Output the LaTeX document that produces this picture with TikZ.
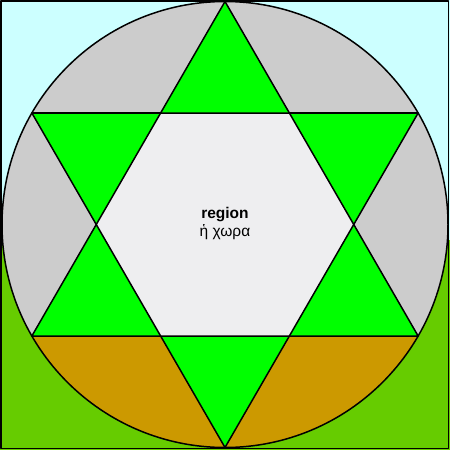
\documentclass[tikz,border=0pt]{standalone}
\usepackage{fontspec}
\setmainfont{Liberation Sans}
\usetikzlibrary{calc}
\definecolor{skycyan}{RGB}{204,255,255}
\definecolor{grassgreen}{RGB}{102,204,0}
\definecolor{discgray}{RGB}{204,204,204}
\definecolor{stargreen}{RGB}{0,255,0}
\definecolor{earthtan}{RGB}{204,153,0}
\definecolor{hexwhite}{RGB}{238,238,240}
\tikzset{outline/.style={draw=black, line width=1.5pt, line join=round}}
\tikzset{label text/.style={align=center, font=\fontsize{15.5}{18}\selectfont, inner sep=0pt}}

\begin{document}
\begin{tikzpicture}[x=1pt, y=-1pt]
  \useasboundingbox (0,0) rectangle (450,450);
  \coordinate (C) at (225,224.5);
  % background: sky and ground
  \fill[skycyan] (0,0) rectangle (450,240);
  \fill[grassgreen] (0,240) rectangle (450,450);
  \draw[outline] (1,1) rectangle (448.5,448.5);

  % star points and hexagon corners
  \foreach \n/\a in {u1/-90, u2/30, u3/150, d1/90, d2/210, d3/330}
    \coordinate (\n) at ($(C)+(\a:223)$);
  \foreach \i in {0,...,5}
    \coordinate (h\i) at ($(C)+(60*\i:128.75)$);

  % disc with its lower segment
  \fill[discgray] (C) circle (223);
  \begin{scope}
    \clip (C) circle (223);
    \fill[earthtan] (0,0 |- u2) rectangle (450,450);
  \end{scope}
  \draw[outline] (C) circle (223);
  \draw[outline] (d2) -- (d3);
  \draw[outline] (u3) -- (u2);

  % star
  \fill[stargreen] (u1) -- (u2) -- (u3) -- cycle;
  \fill[stargreen] (d1) -- (d2) -- (d3) -- cycle;
  \fill[hexwhite] (h0) \foreach \i in {1,...,5} { -- (h\i) } -- cycle;
  \draw[outline] (u1) -- (u2) -- (u3) -- cycle;
  \draw[outline] (d1) -- (d2) -- (d3) -- cycle;

  \node[label text] (region) at ($(C)+(0,-1.5)$) {\textbf{region}\\ἡ χωρα};
\end{tikzpicture}
\end{document}
